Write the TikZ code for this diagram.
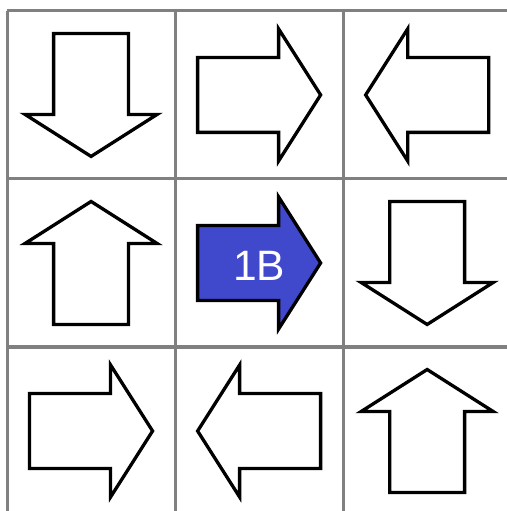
\documentclass[tikz,border=0pt]{standalone}
\usepackage{fontspec}
\setmainfont{Liberation Sans}
\definecolor{arrowblue}{RGB}{64,72,204}
\tikzset{
  gridline/.style={draw=gray, line width=1.3pt},
  arrowshape/.style={draw=black, line width=1.4pt, fill=white, line join=miter},
  arrowlabel/.style={text=white, font=\fontsize{18}{22}\selectfont},
}
\begin{document}
\begin{tikzpicture}[x=2.5cm,y=2.5cm]
    \useasboundingbox (-0.042,0.024) rectangle (2.970,3.065);
    \draw [gridline, step=2.5cm] (0,0) grid (3,3);

    \foreach \col/\row/\ang in {0/0/-90,1/0/0,2/0/180,0/1/90,2/1/-90,0/2/0,1/2/180,2/2/90}
        {\draw [arrowshape, shift={(\col+0.5,2.5-\row)}, rotate=\ang]
            (-0.366,-0.223) -- (0.116,-0.223) -- (0.116,-0.393) -- (0.366,0)
            -- (0.116,0.393) -- (0.116,0.223) -- (-0.366,0.223) -- cycle;}
    \draw [arrowshape, fill=arrowblue, shift={(1.5,1.5)}]
        (-0.366,-0.223) -- (0.116,-0.223) -- (0.116,-0.393) -- (0.366,0)
        -- (0.116,0.393) -- (0.116,0.223) -- (-0.366,0.223) -- cycle;
    \node [arrowlabel] (oneb) at (1.5,1.48) {1B};
\end{tikzpicture}
\end{document}
